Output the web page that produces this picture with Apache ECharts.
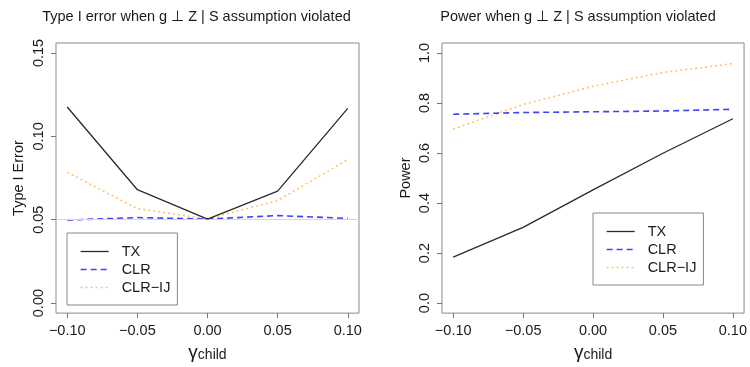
<!DOCTYPE html>
<html>
<head>
<meta charset="utf-8">
<script src="https://cdn.jsdelivr.net/npm/echarts@6/dist/echarts.min.js"></script>
<style>html,body{margin:0;padding:0;background:#fff}#c{width:750px;height:367px}</style>
</head>
<body>
<div id="c"></div>
<script>
// ---- data ----
const gammaChild = [-0.10, -0.05, 0.00, 0.05, 0.10];
const seriesNames = ['TX', 'CLR', 'CLR-IJ'];
// Type I error panel
const typeI_TX    = [0.1176, 0.0680, 0.0504, 0.0672, 0.1168];
const typeI_CLR   = [0.0498, 0.0513, 0.0504, 0.0525, 0.0508];
const typeI_CLRIJ = [0.0785, 0.0566, 0.0505, 0.0615, 0.0860];
// Power panel
const power_TX    = [0.184, 0.303, 0.453, 0.599, 0.737];
const power_CLR   = [0.755, 0.762, 0.765, 0.768, 0.775];
const power_CLRIJ = [0.696, 0.794, 0.867, 0.922, 0.958];
// tick labels
const xTicks = [-0.10, -0.05, 0.00, 0.05, 0.10];
const typeITicks = [0.00, 0.05, 0.10, 0.15];
const powerTicks = [0.0, 0.2, 0.4, 0.6, 0.8, 1.0];
const refLine = 0.05;

const FONT = '"Liberation Sans", Arial, Helvetica, sans-serif';
const TXT = '#1a1a1a';
const minus = s => s.replace(/-/g, '\u2212');
const pairs = ys => gammaChild.map((x, i) => [x, ys[i]]);

const styles = {
  'TX':     {color: '#2a2a2a', width: 1.3, type: 'solid'},
  'CLR':    {color: '#4040ff', width: 1.6, type: [6, 4]},
  'CLR-IJ': {color: '#ffc46a', width: 1.6, type: [2, 3]}
};

function mkSeries(name, ys, idx) {
  const st = styles[name];
  return {
    name: name, type: 'line', xAxisIndex: idx, yAxisIndex: idx,
    data: pairs(ys), symbol: 'none', showSymbol: false, silent: true,
    lineStyle: {color: st.color, width: st.width, type: st.type},
    itemStyle: {color: st.color},
    z: name === 'TX' ? 5 : (name === 'CLR' ? 4 : 3),
    animation: false
  };
}

function xAxis(idx) {
  return {
    type: 'value', gridIndex: idx, min: -0.108, max: 0.108,
    axisLine: {show: false, onZero: false}, splitLine: {show: false},
    axisTick: {show: true, inside: false, length: 5, customValues: xTicks, lineStyle: {color: '#777'}},
    axisLabel: {show: true, customValues: xTicks, margin: 10, fontSize: 14.5, fontFamily: FONT, color: TXT,
      formatter: v => minus(Number(v).toFixed(2))},
    name: '{g|\u03b3}{s|child}', nameLocation: 'middle', nameGap: 22,
    nameTextStyle: {rich: {
      g: {fontSize: 19, fontFamily: FONT, color: TXT, verticalAlign: 'bottom', lineHeight: 20},
      s: {fontSize: 14, fontFamily: FONT, color: TXT, verticalAlign: 'bottom', lineHeight: 16}
    }}
  };
}

function yAxis(idx, min, max, ticks, dec, name, gap) {
  return {
    type: 'value', gridIndex: idx, min: min, max: max,
    axisLine: {show: false, onZero: false}, splitLine: {show: false},
    axisTick: {show: true, inside: false, length: 5, customValues: ticks, lineStyle: {color: '#777'}},
    axisLabel: {show: true, customValues: ticks, rotate: 90, margin: 10, fontSize: 14.5, fontFamily: FONT, color: TXT,
      formatter: v => minus(Number(v).toFixed(dec))},
    name: name, nameLocation: 'middle', nameGap: gap, nameRotate: 90,
    nameTextStyle: {fontSize: 14.5, fontFamily: FONT, color: TXT}
  };
}

function legend(left, top) {
  return {
    orient: 'vertical', left: left, top: top, data: seriesNames,
    itemWidth: 28, itemHeight: 14, itemGap: 3,
    padding: [11, 7, 10, 13],
    borderColor: '#888', borderWidth: 1, borderRadius: 0,
    selectedMode: false,
    itemStyle: {opacity: 0, borderWidth: 0},
    lineStyle: {width: 1.3},
    textStyle: {fontSize: 14.5, fontFamily: FONT, color: TXT, padding: [0, 0, 0, 8]},
    formatter: n => minus(n)
  };
}

const leftSeries = [
  mkSeries('TX', typeI_TX, 0),
  mkSeries('CLR', typeI_CLR, 0),
  mkSeries('CLR-IJ', typeI_CLRIJ, 0)
];
leftSeries[2].markLine = {
  silent: true, symbol: 'none', label: {show: false},
  lineStyle: {color: '#d8d8d8', width: 1, type: 'solid'},
  data: [{yAxis: refLine}], animation: false
};

const option = {
  animation: false,
  backgroundColor: '#fff',
  title: [
    {text: 'Type I error when g \u22a5 Z | S assumption violated', left: 191.5, top: 4, textAlign: 'center',
     textStyle: {fontSize: 14.5, fontWeight: 'normal', fontFamily: FONT, color: TXT}},
    {text: 'Power when g \u22a5 Z | S assumption violated', left: 573, top: 4, textAlign: 'center',
     textStyle: {fontSize: 14.5, fontWeight: 'normal', fontFamily: FONT, color: TXT}}
  ],
  grid: [
    {left: 56, right: 391, top: 43, bottom: 47, show: true, borderColor: '#8a8a8a', borderWidth: 1, backgroundColor: 'transparent', containLabel: false},
    {left: 442, right: 5, top: 43, bottom: 47, show: true, borderColor: '#8a8a8a', borderWidth: 1, backgroundColor: 'transparent', containLabel: false}
  ],
  xAxis: [xAxis(0), xAxis(1)],
  yAxis: [
    yAxis(0, -0.006, 0.156, typeITicks, 2, 'Type I Error', 30),
    yAxis(1, -0.04, 1.04, powerTicks, 1, 'Power', 29)
  ],
  legend: [legend(67, 233), legend(593, 213)],
  series: leftSeries.concat([
    mkSeries('TX', power_TX, 1),
    mkSeries('CLR', power_CLR, 1),
    mkSeries('CLR-IJ', power_CLRIJ, 1)
  ])
};

const chart = echarts.init(document.getElementById('c'), null, {renderer: 'canvas'});
chart.setOption(option);
</script>
</body>
</html>
